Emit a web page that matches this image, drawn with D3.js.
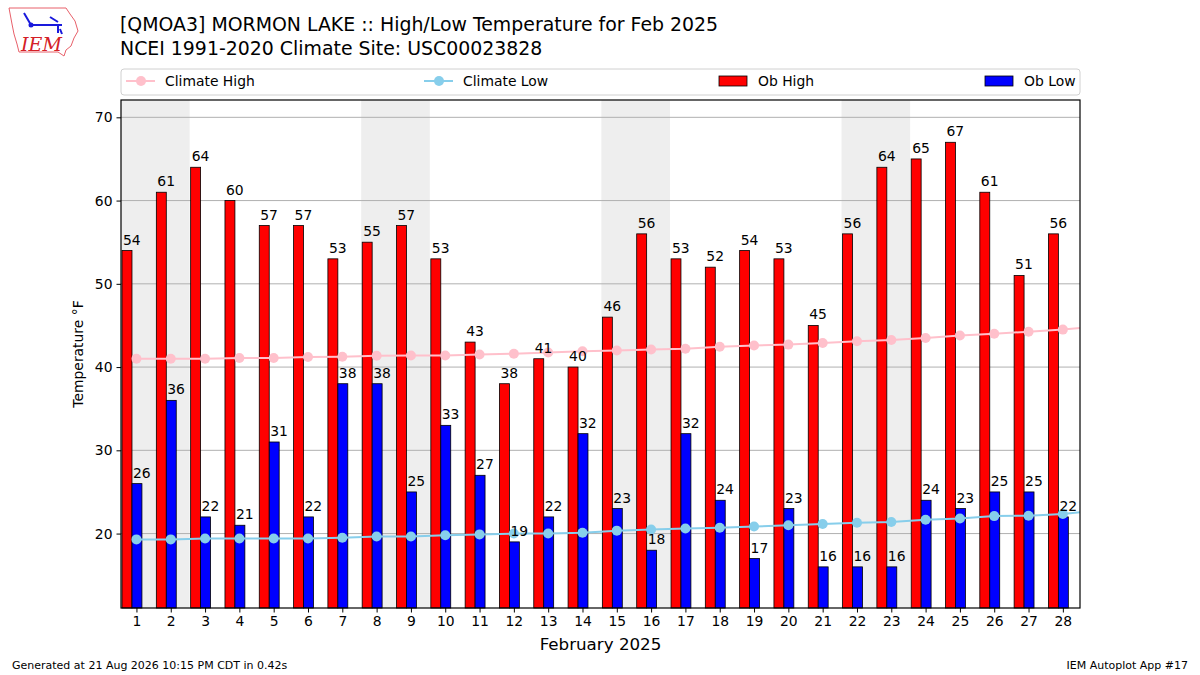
<!DOCTYPE html>
<html>
<head>
<meta charset="utf-8">
<script src="https://d3js.org/d3.v7.min.js"></script>
<style>
  body { margin: 0; background: #fff; }
  text { font-family: "DejaVu Sans", sans-serif; fill: #000; }
</style>
</head>
<body>
<script>
// data
var days = d3.range(1, 29);
var obHigh = [54, 61, 64, 60, 57, 57, 53, 55, 57, 53, 43, 38, 41, 40, 46, 56, 53, 52, 54, 53, 45, 56, 64, 65, 67, 61, 51, 56];
var obLow = [26, 36, 22, 21, 31, 22, 38, 38, 25, 33, 27, 19, 22, 32, 23, 18, 32, 24, 17, 23, 16, 16, 16, 24, 23, 25, 25, 22];
var climDays = d3.range(1, 30);
var climHigh = [41.0, 41.0, 41.0, 41.1, 41.1, 41.2, 41.25, 41.35, 41.4, 41.4, 41.5, 41.6, 41.75, 41.9, 42.0,
                42.1, 42.2, 42.45, 42.6, 42.7, 42.9, 43.1, 43.25, 43.5, 43.8, 44.0, 44.25, 44.5, 44.9];
var climLow = [19.3, 19.3, 19.4, 19.4, 19.4, 19.4, 19.5, 19.65, 19.65, 19.8, 19.9, 20.0, 20.0, 20.1, 20.35,
               20.5, 20.6, 20.7, 20.85, 21.0, 21.15, 21.3, 21.4, 21.65, 21.8, 22.1, 22.15, 22.35, 22.75];
var weekendStarts = [1, 8, 15, 22];
var yTicks = [20, 30, 40, 50, 60, 70];

var width = 1200, height = 675;
var margin = { left: 121, top: 100, right: 120, bottom: 67 };
var innerWidth = width - margin.left - margin.right;
var innerHeight = height - margin.top - margin.bottom;

var svg = d3.select("body").append("svg")
  .attr("width", width)
  .attr("height", height);

var x = d3.scaleLinear().domain([0.55, 28.5]).range([0, innerWidth]);
var y = d3.scaleLinear().domain([11.06, 72.08]).range([innerHeight, 0]);

// titles
svg.append("text").attr("x", 120).attr("y", 31).style("font-size", "18.9px")
  .text("[QMOA3] MORMON LAKE :: High/Low Temperature for Feb 2025");
svg.append("text").attr("x", 120).attr("y", 55).style("font-size", "18.9px")
  .text("NCEI 1991-2020 Climate Site: USC00023828");

// logo, rough
var logo = svg.append("g");
logo.append("path")
  .attr("d", "M9,8 L66,8 L70,14 L75,21 L78,31 L74,38 L71,46 L66,50 L64,56 L58,52 L19,52 L17,44 L14,34 L12,24 Z")
  .attr("fill", "none").attr("stroke", "#e8606a").attr("stroke-width", 1);
logo.append("path").attr("d", "M31,25 L62,25 M50,17 L58,22 M58,25 L58,33 M60,29 L62,34 M24,13 L31,25")
  .attr("stroke", "#1a1adc").attr("stroke-width", 2).attr("fill", "none");
logo.append("circle").attr("cx", 31).attr("cy", 25).attr("r", 2.5).attr("fill", "#1a1adc");
logo.append("text").attr("x", 21).attr("y", 51)
  .style("font-family", "'DejaVu Serif', serif").style("font-style", "italic").style("font-size", "19px")
  .style("fill", "#d42026").text("IEM");

var g = svg.append("g").attr("transform", "translate(" + margin.left + "," + margin.top + ")");

svg.append("clipPath").attr("id", "clip").append("rect")
  .attr("width", innerWidth).attr("height", innerHeight);

// weekend shading
g.selectAll(".wk").data(weekendStarts).enter().append("rect")
  .attr("x", function(d) { return Math.max(0, x(d - 0.45)); })
  .attr("width", function(d) { return x(d + 1.55) - Math.max(0, x(d - 0.45)); })
  .attr("y", 0).attr("height", innerHeight)
  .attr("fill", "#eeeeee");

// grid
g.selectAll(".grid").data(yTicks).enter().append("line")
  .attr("x1", 0).attr("x2", innerWidth)
  .attr("y1", function(d) { return y(d); }).attr("y2", function(d) { return y(d); })
  .attr("stroke", "#b0b0b0").attr("stroke-width", 1);

var bw = x(0.29) - x(0);

g.selectAll(".hi").data(days).enter().append("rect")
  .attr("x", function(d) { return x(d - 0.42); })
  .attr("y", function(d, i) { return y(obHigh[i]); })
  .attr("width", bw)
  .attr("height", function(d, i) { return innerHeight - y(obHigh[i]); })
  .attr("fill", "#ff0000").attr("stroke", "#000").attr("stroke-width", 0.8);

g.selectAll(".lo").data(days).enter().append("rect")
  .attr("x", function(d) { return x(d - 0.13); })
  .attr("y", function(d, i) { return y(obLow[i]); })
  .attr("width", bw)
  .attr("height", function(d, i) { return innerHeight - y(obLow[i]); })
  .attr("fill", "#0000ff").attr("stroke", "#000").attr("stroke-width", 0.8);

// climate lines
function climLine(vals, color) {
  var cg = g.append("g").attr("clip-path", "url(#clip)");
  cg.append("path")
    .datum(climDays)
    .attr("d", d3.line().x(function(d) { return x(d); }).y(function(d, i) { return y(vals[i]); }))
    .attr("fill", "none").attr("stroke", color).attr("stroke-width", 2);
  cg.selectAll("circle").data(climDays).enter().append("circle")
    .attr("cx", function(d) { return x(d); })
    .attr("cy", function(d, i) { return y(vals[i]); })
    .attr("r", 5).attr("fill", color);
}
climLine(climHigh, "#ffc0cb");
climLine(climLow, "#87ceeb");

// value labels, start at the bar's left edge, drawn on top
g.selectAll(".hil").data(days).enter().append("text")
  .attr("x", function(d) { return x(d - 0.42) + 1; })
  .attr("y", function(d, i) { return y(obHigh[i]) - 6; })
  .style("font-size", "13.9px")
  .text(function(d, i) { return obHigh[i]; });
g.selectAll(".lol").data(days).enter().append("text")
  .attr("x", function(d) { return x(d - 0.13) + 1; })
  .attr("y", function(d, i) { return y(obLow[i]) - 6; })
  .style("font-size", "13.9px")
  .text(function(d, i) { return obLow[i]; });

// axes
var xAxis = d3.axisBottom(x).tickValues(days).tickSize(4.5).tickPadding(4).tickFormat(d3.format("d"));
var yAxis = d3.axisLeft(y).tickValues(yTicks).tickSize(4.5).tickPadding(4);
var xAxisG = g.append("g").attr("transform", "translate(0," + innerHeight + ")").call(xAxis);
var yAxisG = g.append("g").call(yAxis);
[xAxisG, yAxisG].forEach(function(a) {
  a.select(".domain").remove();
  a.selectAll("text").style("font-size", "13.9px").style("font-family", "'DejaVu Sans', sans-serif");
  a.selectAll("line").attr("stroke", "#000").attr("stroke-width", 1);
});

g.append("rect").attr("width", innerWidth).attr("height", innerHeight)
  .attr("fill", "none").attr("stroke", "#000").attr("stroke-width", 1.2);

svg.append("text").attr("x", margin.left + innerWidth / 2).attr("y", 650)
  .attr("text-anchor", "middle").style("font-size", "16.7px").text("February 2025");
svg.append("text").attr("transform", "translate(83," + (margin.top + innerHeight / 2) + ") rotate(-90)")
  .attr("text-anchor", "middle").style("font-size", "13.9px").text("Temperature °F");

// legend
var leg = svg.append("g");
leg.append("rect").attr("x", 121).attr("y", 69).attr("width", 959).attr("height", 26)
  .attr("rx", 3).attr("fill", "#fff").attr("stroke", "#d0d0d0").attr("stroke-width", 1);
var lineItems = [
  { label: "Climate High", color: "#ffc0cb", x0: 126 },
  { label: "Climate Low", color: "#87ceeb", x0: 424 }
];
lineItems.forEach(function(it) {
  leg.append("line").attr("x1", it.x0).attr("x2", it.x0 + 29).attr("y1", 81).attr("y2", 81)
    .attr("stroke", it.color).attr("stroke-width", 2);
  leg.append("circle").attr("cx", it.x0 + 15).attr("cy", 81).attr("r", 5).attr("fill", it.color);
  leg.append("text").attr("x", it.x0 + 39).attr("y", 86).style("font-size", "13.9px").text(it.label);
});
var barItems = [
  { label: "Ob High", color: "#ff0000", x0: 719 },
  { label: "Ob Low", color: "#0000ff", x0: 985 }
];
barItems.forEach(function(it) {
  leg.append("rect").attr("x", it.x0).attr("y", 76).attr("width", 28).attr("height", 10)
    .attr("fill", it.color).attr("stroke", "#000").attr("stroke-width", 0.8);
  leg.append("text").attr("x", it.x0 + 39).attr("y", 86).style("font-size", "13.9px").text(it.label);
});

// footer
svg.append("text").attr("x", 12).attr("y", 669).style("font-size", "11px")
  .text("Generated at 21 Aug 2026 10:15 PM CDT in 0.42s");
svg.append("text").attr("x", 1188).attr("y", 669).attr("text-anchor", "end").style("font-size", "11px")
  .text("IEM Autoplot App #17");
</script>
</body>
</html>
